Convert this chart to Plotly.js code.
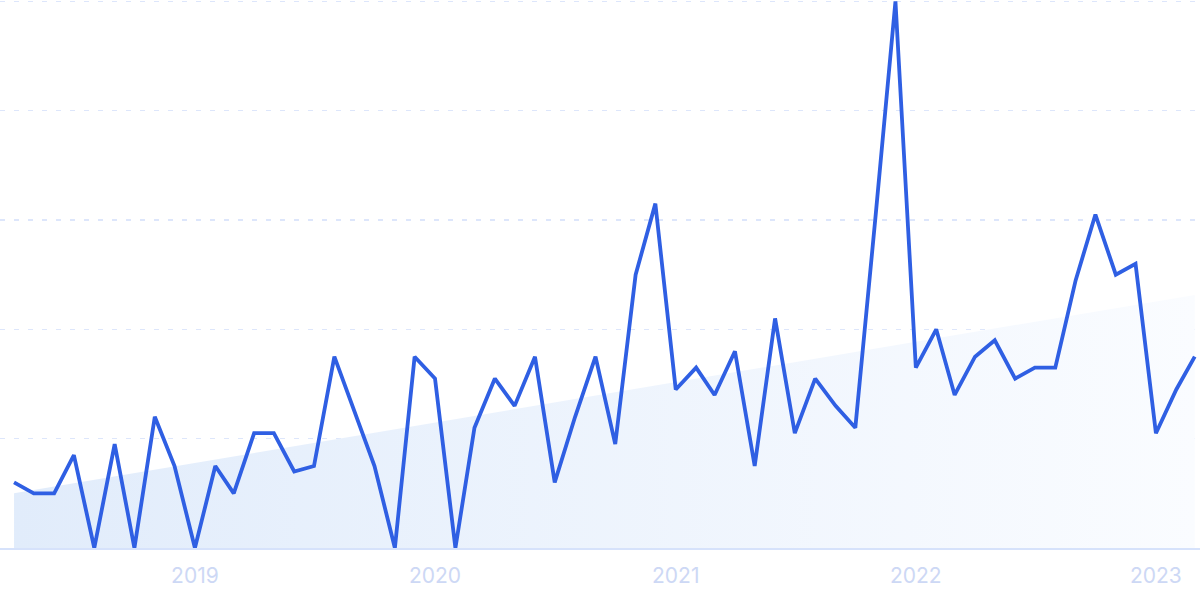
<!DOCTYPE html>
<html>
<head>
<meta charset="utf-8">
<script src="https://cdn.plot.ly/plotly-3.0.1.min.js"></script>
<style>html,body{margin:0;padding:0;background:#fff;}#chart{width:1200px;height:600px;}</style>
</head>
<body>
<div id="chart"></div>
<script>
const months = [
  '2018-04-01','2018-05-01','2018-06-01','2018-07-01','2018-08-01','2018-09-01','2018-10-01','2018-11-01','2018-12-01',
  '2019-01-01','2019-02-01','2019-03-01','2019-04-01','2019-05-01','2019-06-01','2019-07-01','2019-08-01','2019-09-01','2019-10-01','2019-11-01','2019-12-01',
  '2020-01-01','2020-02-01','2020-03-01','2020-04-01','2020-05-01','2020-06-01','2020-07-01','2020-08-01','2020-09-01','2020-10-01','2020-11-01','2020-12-01',
  '2021-01-01','2021-02-01','2021-03-01','2021-04-01','2021-05-01','2021-06-01','2021-07-01','2021-08-01','2021-09-01','2021-10-01','2021-11-01','2021-12-01',
  '2022-01-01','2022-02-01','2022-03-01','2022-04-01','2022-05-01','2022-06-01','2022-07-01','2022-08-01','2022-09-01','2022-10-01','2022-11-01','2022-12-01',
  '2023-01-01','2023-02-01','2023-03-01'
];
const interest = [
  12,10,10,17,0,19,0,24,15,
  0,15,10,21,21,14,15,35,25,15,0,35,
  31,0,22,31,26,35,12,24,35,19,50,63,
  29,33,28,36,15,42,21,31,26,22,61,100,
  33,40,28,35,38,31,33,33,49,61,50,52,
  21,29,35
];
const trendDates = ['2018-04-01','2023-03-01'];
const trendValues = [10, 46.3];
const tickVals = ['2019-01-01','2020-01-01','2021-01-01','2022-01-01','2023-01-01'];
const tickText = ['2019','2020','2021','2022','2023'];

const traces = [
  {
    x: trendDates, y: trendValues, type: 'scatter', mode: 'lines',
    line: {width: 0, color: 'rgba(0,0,0,0)'},
    fill: 'tozeroy',
    fillgradient: {type: 'horizontal', colorscale: [[0, '#e1ecfb'], [1, '#fafcff']]},
    hoverinfo: 'skip', showlegend: false
  },
  {
    x: months, y: interest, type: 'scatter', mode: 'lines',
    line: {color: '#2f5fe3', width: 3.8},
    cliponaxis: false, showlegend: false
  }
];

const layout = {
  width: 1200, height: 600,
  margin: {l: 0, r: 0, t: 0, b: 52},
  paper_bgcolor: '#ffffff', plot_bgcolor: '#ffffff',
  xaxis: {
    type: 'date',
    range: ['2018-03-10 16:00', '2023-03-09'],
    showgrid: false, zeroline: false,
    showline: true, linecolor: '#d6e2fb', linewidth: 1.5,
    tickvals: tickVals, ticktext: tickText, ticks: '',
    tickfont: {family: 'Inter, sans-serif', size: 21, color: '#cdd8f5'},
    ticklabelstandoff: 8
  },
  yaxis: {
    range: [0, 100.25],
    tickvals: [0, 20, 40, 60, 80, 100],
    showticklabels: false, ticks: '',
    showgrid: true, gridcolor: '#dde6fb', gridwidth: 1.2, griddash: '5px,9px',
    zeroline: false, showline: false
  }
};

Plotly.newPlot('chart', traces, layout, {displayModeBar: false, staticPlot: true});
</script>
</body>
</html>
